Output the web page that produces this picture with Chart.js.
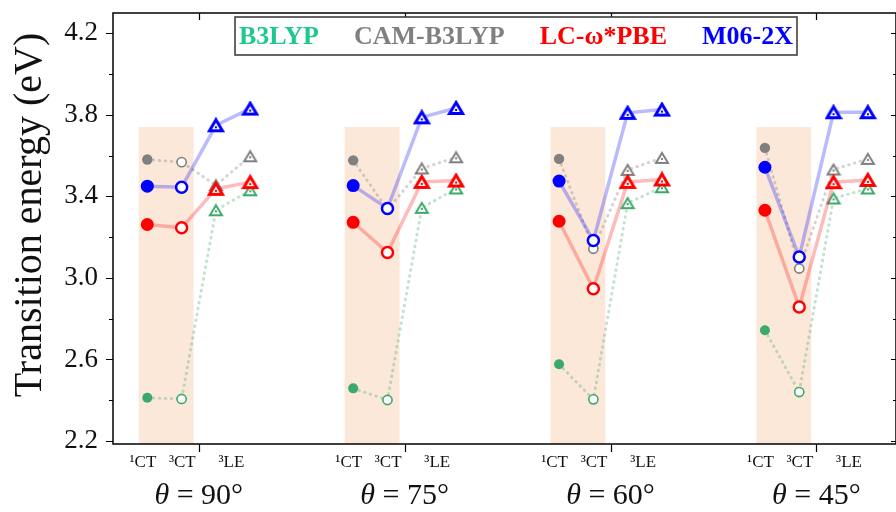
<!DOCTYPE html>
<html>
<head>
<meta charset="utf-8">
<script src="https://cdn.jsdelivr.net/npm/chart.js@4/dist/chart.umd.min.js"></script>
<style>
  html, body { margin: 0; padding: 0; background: #fff; overflow: hidden; }
  #wrap { width: 896px; height: 512px; overflow: hidden; }
</style>
</head>
<body>
<div id="wrap"><canvas id="c" width="896" height="512"></canvas></div>
<script>
// Dihedral angles (one group of states per angle) and the states in each group
const angles = ['90°', '75°', '60°', '45°'];
const states = ['¹CT', '³CT', '³LE', '³LE'];
const stateLabels = ['¹CT', '³CT', '³LE'];
const yTickValues = [2.2, 2.6, 3.0, 3.4, 3.8, 4.2];
const yMinorValues = [2.4, 2.8, 3.2, 3.6, 4.0];

// Transition energies (eV): four states per angle, angles in the order above
const b3lyp    = [2.412, 2.406, 3.332, 3.430,  2.458, 2.401, 3.344, 3.439,  2.576, 2.404, 3.367, 3.445,  2.743, 2.440, 3.390, 3.439];
const camb3lyp = [3.581, 3.568, 3.455, 3.597,  3.577, 3.335, 3.537, 3.592,  3.584, 3.143, 3.530, 3.589,  3.638, 3.046, 3.532, 3.584];
const lcwpbe   = [3.262, 3.246, 3.437, 3.470,  3.273, 3.125, 3.471, 3.478,  3.278, 2.947, 3.471, 3.483,  3.332, 2.857, 3.470, 3.481];
const m062x    = [3.450, 3.445, 3.749, 3.831,  3.453, 3.341, 3.788, 3.834,  3.475, 3.184, 3.810, 3.826,  3.543, 3.103, 3.813, 3.813];

// Upper energy bound of the shaded CT band
const ctBandTop = 3.74;

const groupStride = 6;
const SERIF = '"Liberation Serif", "Times New Roman", serif';

function series(values) {
  const pts = [];
  angles.forEach((a, g) => {
    states.forEach((s, k) => pts.push({ x: g * groupStride + k, y: values[g * states.length + k], k }));
    if (g < angles.length - 1) pts.push({ x: g * groupStride + 3.5, y: null, k: -1 });
  });
  return pts;
}

// Open triangle with a small centre dot, used for the ³LE states
function triangle(color, w, h, lw) {
  const pad = 1;
  const c = document.createElement('canvas');
  c.width = w + pad * 2; c.height = h + pad * 2;
  const g = c.getContext('2d');
  const x0 = pad + lw / 2, x1 = pad + w - lw / 2, yTop = pad + lw / 2, yBot = pad + h - lw / 2;
  g.beginPath();
  g.moveTo((x0 + x1) / 2, yTop);
  g.lineTo(x1, yBot);
  g.lineTo(x0, yBot);
  g.closePath();
  g.fillStyle = '#fff';
  g.fill();
  g.lineJoin = 'miter';
  g.lineWidth = lw;
  g.strokeStyle = color;
  g.stroke();
  g.fillStyle = color;
  const cx = c.width / 2, cy = pad + h * 0.62;
  g.fillRect(Math.round(cx - 1), Math.round(cy - 1), 2, 2);
  return c;
}

function makeDataset(label, values, o) {
  const tri = triangle(o.color, o.triW, o.triH, o.triLw);
  return {
    label,
    data: series(values),
    borderColor: o.lineColor,
    borderWidth: o.lineWidth,
    borderDash: o.dash || [],
    borderCapStyle: o.dash ? 'round' : 'butt',
    spanGaps: false,
    fill: false,
    tension: 0,
    pointStyle: ctx => (ctx.raw && ctx.raw.k >= 2) ? tri : 'circle',
    pointRadius: ctx => {
      const k = ctx.raw ? ctx.raw.k : 0;
      return k === 0 ? o.fillR : (k === 1 ? o.openR : o.triW / 2);
    },
    pointBackgroundColor: ctx => (ctx.raw && ctx.raw.k === 0) ? o.color : '#fff',
    pointBorderColor: o.color,
    pointBorderWidth: ctx => (ctx.raw && ctx.raw.k === 0) ? 0 : o.openLw,
    pointHoverRadius: 0
  };
}

// Shaded band behind the ¹CT/³CT states of each angle
const bandPlugin = {
  id: 'ctBand',
  beforeDatasetsDraw(chart) {
    const { ctx, scales: { x, y } } = chart;
    ctx.save();
    ctx.fillStyle = 'rgb(252, 232, 217)';
    angles.forEach((a, g) => {
      const l = x.getPixelForValue(g * groupStride - 0.25);
      const r = x.getPixelForValue(g * groupStride + 1.35);
      const t = y.getPixelForValue(ctBandTop);
      const b = y.getPixelForValue(y.min);
      ctx.fillRect(l, t, r - l, b - t);
    });
    ctx.restore();
  }
};

// Frame, tick marks, state labels, angle labels, axis title and legend
const decorPlugin = {
  id: 'decor',
  afterDraw(chart) {
    const { ctx, chartArea: ca, scales: { x, y } } = chart;
    ctx.save();
    ctx.strokeStyle = '#000';
    ctx.lineWidth = 1.5;
    ctx.strokeRect(ca.left, ca.top, ca.right - ca.left, ca.bottom - ca.top);

    ctx.lineWidth = 1.2;
    ctx.beginPath();
    yTickValues.forEach(v => {
      const py = Math.round(y.getPixelForValue(v)) + 0.5;
      ctx.moveTo(ca.left - 7, py); ctx.lineTo(ca.left, py);
      ctx.moveTo(ca.right, py); ctx.lineTo(ca.right - 5, py);
    });
    yMinorValues.forEach(v => {
      const py = Math.round(y.getPixelForValue(v)) + 0.5;
      ctx.moveTo(ca.left - 4, py); ctx.lineTo(ca.left, py);
      ctx.moveTo(ca.right, py); ctx.lineTo(ca.right - 3, py);
    });
    angles.forEach((a, g) => {
      const px = Math.round(x.getPixelForValue(g * groupStride + 1.5)) + 0.5;
      ctx.moveTo(px, ca.bottom); ctx.lineTo(px, ca.bottom + 8);
      ctx.moveTo(px, ca.top); ctx.lineTo(px, ca.top + 7);
    });
    ctx.stroke();

    // state labels under each group
    const stateOffsets = [-0.13, 1.02, 2.45];
    ctx.fillStyle = '#111';
    ctx.textAlign = 'center';
    ctx.textBaseline = 'middle';
    ctx.font = '17px ' + SERIF;
    angles.forEach((a, g) => {
      stateLabels.forEach((s, i) => {
        ctx.fillText(s, x.getPixelForValue(g * groupStride + stateOffsets[i]), 463);
      });
    });

    // angle labels
    angles.forEach((a, g) => {
      const cx = x.getPixelForValue(g * groupStride + 1.5);
      const italic = 'italic 30px ' + SERIF;
      const upright = '30px ' + SERIF;
      const rest = ' = ' + a;
      ctx.font = italic; const w1 = ctx.measureText('θ').width;
      ctx.font = upright; const w2 = ctx.measureText(rest).width;
      const x0 = cx - (w1 + w2) / 2;
      ctx.textAlign = 'left';
      ctx.font = italic; ctx.fillText('θ', x0, 496);
      ctx.font = upright; ctx.fillText(rest, x0 + w1, 496);
    });

    // y axis title
    ctx.save();
    ctx.translate(41, 215);
    ctx.rotate(-Math.PI / 2);
    ctx.textAlign = 'center';
    ctx.textBaseline = 'alphabetic';
    ctx.font = '40px ' + SERIF;
    ctx.fillStyle = '#111';
    ctx.fillText('Transition energy (eV)', 0, 0);
    ctx.restore();

    // legend
    const items = [
      ['B3LYP', '#1ec98c'], ['CAM-B3LYP', '#808080'], ['LC-ω*PBE', '#ff0000'], ['M06-2X', '#0000ff']
    ];
    const box = { l: 235, t: 17, r: 797, b: 55 };
    ctx.fillStyle = '#fff';
    ctx.fillRect(box.l, box.t, box.r - box.l, box.b - box.t);
    ctx.strokeStyle = '#333';
    ctx.lineWidth = 1.5;
    ctx.strokeRect(box.l, box.t, box.r - box.l, box.b - box.t);
    ctx.font = 'bold 26px ' + SERIF;
    ctx.textAlign = 'left';
    ctx.textBaseline = 'middle';
    const widths = items.map(it => ctx.measureText(it[0]).width);
    const total = widths.reduce((s, w) => s + w, 0);
    const gap = (box.r - box.l - 8 - total) / (items.length - 1);
    let px = box.l + 4;
    items.forEach((it, i) => {
      ctx.fillStyle = it[1];
      ctx.fillText(it[0], px, 37);
      px += widths[i] + gap;
    });
    ctx.restore();
  }
};

const datasets = [
  makeDataset('M06-2X', m062x, { color: '#0000ff', lineColor: 'rgba(0,0,255,0.27)', lineWidth: 3.5, fillR: 6.5, openR: 5.5, openLw: 2.5, triW: 16, triH: 14, triLw: 3 }),
  makeDataset('LC-ω*PBE', lcwpbe, { color: '#ff0000', lineColor: 'rgba(255,0,0,0.27)', lineWidth: 3.5, fillR: 6.5, openR: 5.5, openLw: 2.5, triW: 16, triH: 14, triLw: 3 }),
  makeDataset('CAM-B3LYP', camb3lyp, { color: '#808080', lineColor: 'rgba(128,128,128,0.35)', lineWidth: 3, dash: [0.5, 5.5], fillR: 5.2, openR: 4.6, openLw: 1.6, triW: 14, triH: 12, triLw: 2 }),
  makeDataset('B3LYP', b3lyp, { color: '#3aa96a', lineColor: 'rgba(58,169,106,0.32)', lineWidth: 3, dash: [0.5, 5.5], fillR: 5, openR: 4.6, openLw: 1.6, triW: 14, triH: 12, triLw: 2 })
];

function noPadding(s) {
  s.paddingTop = 0; s.paddingBottom = 0; s.paddingLeft = 0; s.paddingRight = 0;
}

new Chart(document.getElementById('c'), {
  type: 'line',
  data: { datasets },
  options: {
    responsive: false,
    devicePixelRatio: 1,
    animation: false,
    // the right-hand frame edge sits just past the canvas edge
    layout: { autoPadding: false, padding: { top: 13, right: -2, left: 0, bottom: 0 } },
    plugins: { legend: { display: false }, tooltip: { enabled: false } },
    events: [],
    scales: {
      x: {
        type: 'linear',
        min: -1,
        max: 21.82,
        grid: { display: false, drawTicks: false },
        border: { display: false },
        ticks: { display: false },
        afterFit: s => { s.height = 68; noPadding(s); }
      },
      y: {
        type: 'linear',
        min: 2.185,
        max: 4.3,
        grid: { display: false, drawTicks: false },
        border: { display: false },
        afterBuildTicks: s => { s.ticks = yTickValues.map(v => ({ value: v })); },
        afterFit: s => { s.width = 113; noPadding(s); },
        ticks: {
          padding: 15,
          color: '#111',
          font: { family: SERIF, size: 27 },
          callback: v => Number(v).toFixed(1)
        }
      }
    }
  },
  plugins: [bandPlugin, decorPlugin]
});
</script>
</body>
</html>
